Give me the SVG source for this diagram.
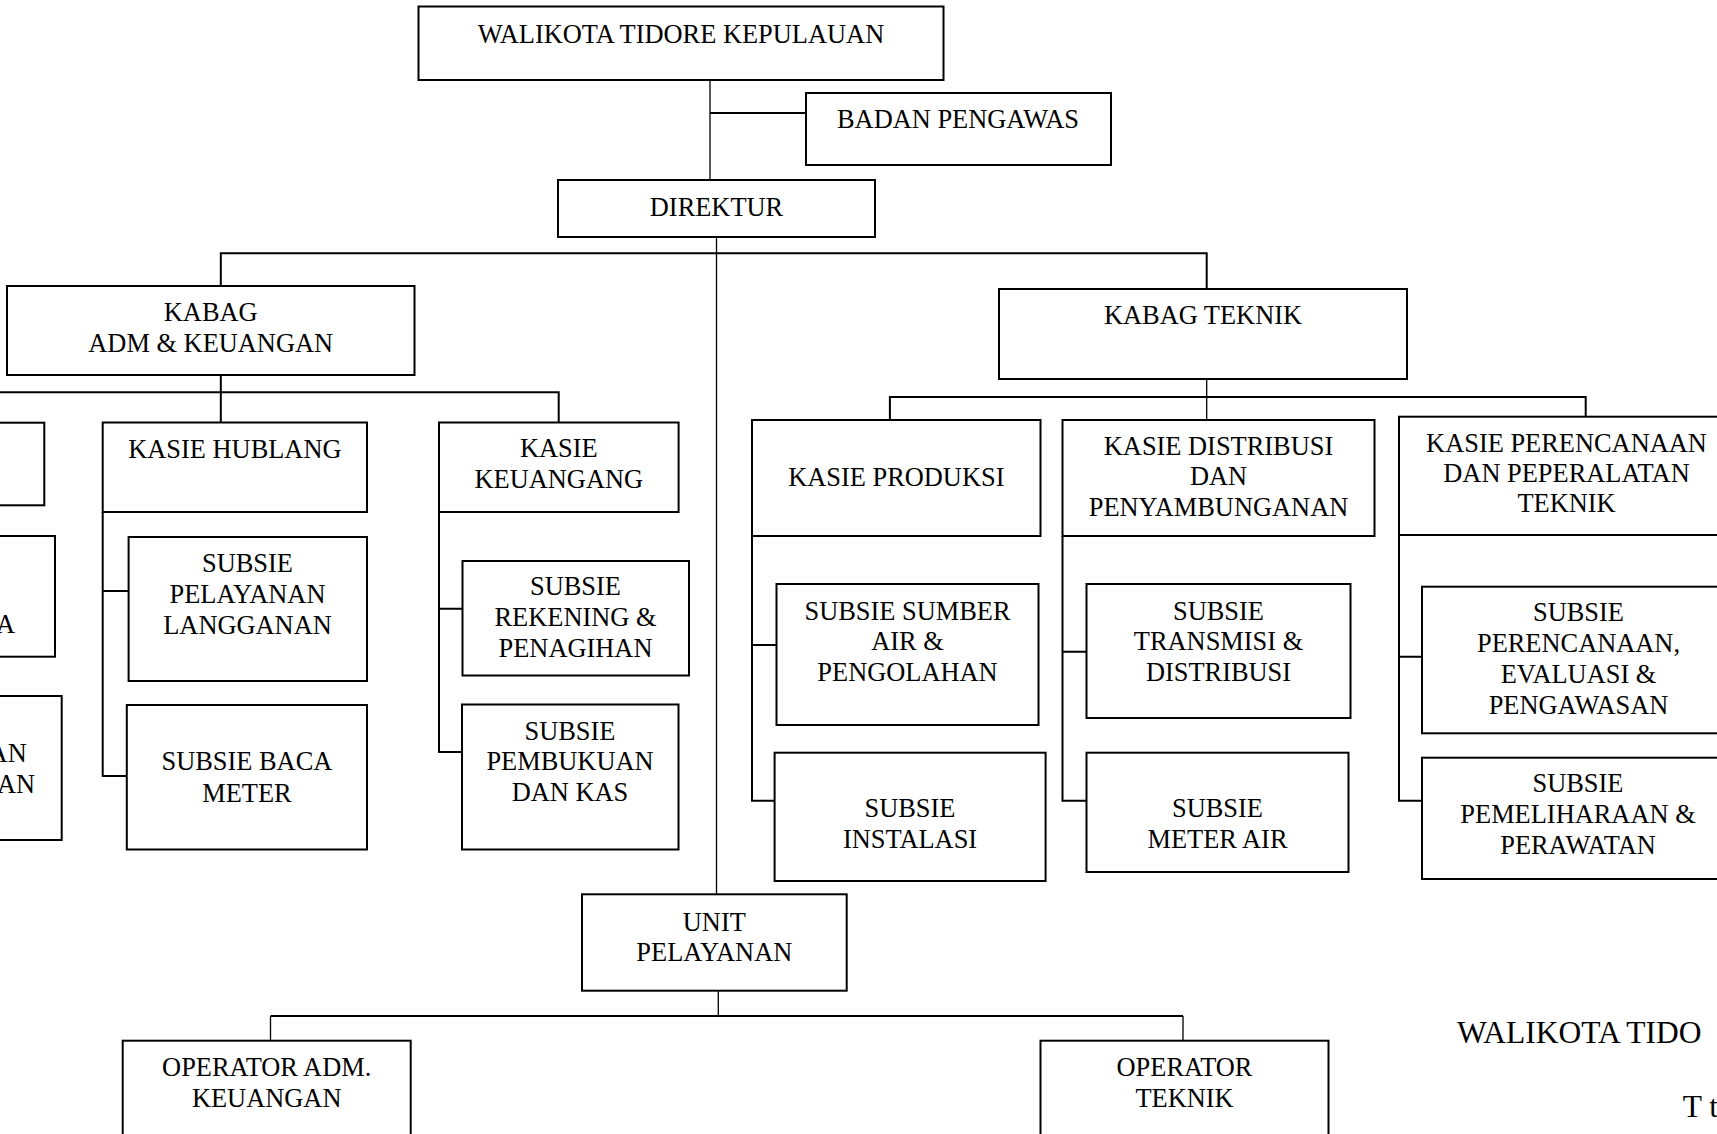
<svg xmlns="http://www.w3.org/2000/svg" width="1717" height="1134" viewBox="0 0 1717 1134">
<style>
  .box { fill: #fff; stroke: #000; stroke-width: 2; }
  .t { font-family: "Liberation Serif", "Times New Roman", serif; font-size: 26.4px; fill: #000; text-anchor: middle; }
  .te { font-family: "Liberation Serif", "Times New Roman", serif; font-size: 26.4px; fill: #000; text-anchor: end; }
  .big { font-family: "Liberation Serif", "Times New Roman", serif; font-size: 31.5px; fill: #000; }
  .c { fill: none; stroke: #000; stroke-width: 2; }
  .thin { fill: none; stroke: #000; stroke-width: 1.3; }
</style>
<rect width="1717" height="1134" fill="#fff"/>
<g id="connectors">
  <path class="thin" d="M710 77 V180"/>
  <path class="c" d="M710 113 H806"/>
  <path class="thin" d="M716.5 237 V894.3"/>
  <path class="c" d="M220.8 286 V253.3 H1206.7 V289"/>
  <path class="c" d="M220.8 375 V422.5"/>
  <path class="c" d="M0 392.3 H558.7 V422.5"/>
  <path class="thin" d="M1206.7 379 V420"/>
  <path class="c" d="M889.9 420 V397 H1585.7 V416.7"/>
  <path class="c" d="M102.7 512 V776 H126.8 M102.7 591 H128.6"/>
  <path class="c" d="M439 512 V752 H462 M439 608.7 H462.5"/>
  <path class="c" d="M752 536 V800.7 H774.6 M752 645 H776.5"/>
  <path class="c" d="M1062.5 536 V800.7 H1086.5 M1062.5 651.7 H1086.5"/>
  <path class="c" d="M1399 535 V800.7 H1422 M1399 656.7 H1422"/>
  <path class="thin" d="M718.3 990.7 V1016"/>
  <path class="c" d="M270.5 1016 H1183"/>
  <path class="thin" d="M270.5 1016 V1040.7 M1183 1016 V1040.7"/>
</g>
<g id="walikota"><rect class="box" x="418.5" y="6.5" width="525" height="73.5"/><text class="t" x="681" y="42.7">WALIKOTA TIDORE KEPULAUAN</text></g>
<g id="badan-pengawas"><rect class="box" x="806" y="93" width="305" height="72"/><text class="t" x="958" y="127.7">BADAN PENGAWAS</text></g>
<g id="direktur"><rect class="box" x="558" y="180" width="317" height="57"/><text class="t" x="716.5" y="215.7">DIREKTUR</text></g>
<g id="kabag-adm"><rect class="box" x="7" y="286" width="407.5" height="89"/><text class="t" x="210.7" y="321">KABAG</text><text class="t" x="210.7" y="351.7">ADM &amp; KEUANGAN</text></g>
<g id="kabag-teknik"><rect class="box" x="999" y="289" width="408" height="90"/><text class="t" x="1203" y="324.3">KABAG TEKNIK</text></g>
<g id="kasie-left"><rect class="box" x="-200" y="422.7" width="244.3" height="82.6"/></g>
<g id="subsie-left-1"><rect class="box" x="-200" y="536" width="255" height="120.7"/><text class="te" x="15" y="633.3">A</text></g>
<g id="subsie-left-2"><rect class="box" x="-200" y="696" width="261.7" height="144"/><text class="te" x="26.7" y="761.7">AN</text><text class="te" x="35" y="792.7">AN</text></g>
<g id="kasie-hublang"><rect class="box" x="102.7" y="422.5" width="264.3" height="89.5"/><text class="t" x="234.9" y="458.3">KASIE HUBLANG</text></g>
<g id="subsie-pelayanan"><rect class="box" x="128.6" y="537" width="238.4" height="144"/><text class="t" x="247.5" y="571.5">SUBSIE</text><text class="t" x="247.5" y="602.5">PELAYANAN</text><text class="t" x="247.5" y="633.5">LANGGANAN</text></g>
<g id="subsie-baca"><rect class="box" x="126.8" y="705" width="240.2" height="144.5"/><text class="t" x="246.9" y="770">SUBSIE BACA</text><text class="t" x="246.9" y="801.7">METER</text></g>
<g id="kasie-keuangang"><rect class="box" x="439" y="422.5" width="239.6" height="89.5"/><text class="t" x="558.8" y="456.7">KASIE</text><text class="t" x="558.8" y="488.3">KEUANGANG</text></g>
<g id="subsie-rekening"><rect class="box" x="462.5" y="561" width="226.5" height="114.5"/><text class="t" x="575.5" y="595">SUBSIE</text><text class="t" x="575.5" y="626">REKENING &amp;</text><text class="t" x="575.5" y="656.7">PENAGIHAN</text></g>
<g id="subsie-pembukuan"><rect class="box" x="462" y="704.5" width="216.5" height="145"/><text class="t" x="570" y="740">SUBSIE</text><text class="t" x="570" y="770">PEMBUKUAN</text><text class="t" x="570" y="800.7">DAN KAS</text></g>
<g id="kasie-produksi"><rect class="box" x="752" y="420" width="288.5" height="116"/><text class="t" x="896.3" y="486">KASIE PRODUKSI</text></g>
<g id="kasie-distribusi"><rect class="box" x="1062.5" y="420" width="312" height="116"/><text class="t" x="1218.5" y="455">KASIE DISTRIBUSI</text><text class="t" x="1218.5" y="485">DAN</text><text class="t" x="1218.5" y="516">PENYAMBUNGANAN</text></g>
<g id="kasie-perencanaan"><rect class="box" x="1399" y="416.7" width="340" height="118.3"/><text class="t" x="1566.5" y="452">KASIE PERENCANAAN</text><text class="t" x="1566.5" y="481.7">DAN PEPERALATAN</text><text class="t" x="1566.5" y="512">TEKNIK</text></g>
<g id="subsie-sumber"><rect class="box" x="776.5" y="584" width="262" height="141"/><text class="t" x="907.5" y="620">SUBSIE SUMBER</text><text class="t" x="907.5" y="650">AIR &amp;</text><text class="t" x="907.5" y="681">PENGOLAHAN</text></g>
<g id="subsie-instalasi"><rect class="box" x="774.6" y="752.7" width="271" height="128.3"/><text class="t" x="910" y="817.3">SUBSIE</text><text class="t" x="910" y="848.3">INSTALASI</text></g>
<g id="subsie-transmisi"><rect class="box" x="1086.5" y="584" width="264" height="134"/><text class="t" x="1218.5" y="620">SUBSIE</text><text class="t" x="1218.5" y="650">TRANSMISI &amp;</text><text class="t" x="1218.5" y="681">DISTRIBUSI</text></g>
<g id="subsie-meter-air"><rect class="box" x="1086.5" y="752.7" width="262" height="119.3"/><text class="t" x="1217.5" y="817.3">SUBSIE</text><text class="t" x="1217.5" y="848.3">METER AIR</text></g>
<g id="subsie-perencanaan"><rect class="box" x="1422" y="586.7" width="320" height="146.6"/><text class="t" x="1578.5" y="621">SUBSIE</text><text class="t" x="1578.5" y="651.7">PERENCANAAN,</text><text class="t" x="1578.5" y="683.3">EVALUASI &amp;</text><text class="t" x="1578.5" y="714">PENGAWASAN</text></g>
<g id="subsie-pemeliharaan"><rect class="box" x="1422" y="757.7" width="320" height="121.3"/><text class="t" x="1578" y="791.7">SUBSIE</text><text class="t" x="1578" y="822.7">PEMELIHARAAN &amp;</text><text class="t" x="1578" y="854">PERAWATAN</text></g>
<g id="unit-pelayanan"><rect class="box" x="582" y="894.3" width="264.7" height="96.4"/><text class="t" x="714.3" y="930.7">UNIT</text><text class="t" x="714.3" y="961">PELAYANAN</text></g>
<g id="operator-adm"><rect class="box" x="122.7" y="1040.7" width="288" height="120"/><text class="t" x="266.7" y="1076">OPERATOR ADM.</text><text class="t" x="266.7" y="1106.7">KEUANGAN</text></g>
<g id="operator-teknik"><rect class="box" x="1040.5" y="1040.7" width="288" height="120"/><text class="t" x="1184.5" y="1076">OPERATOR</text><text class="t" x="1184.5" y="1106.7">TEKNIK</text></g>
<g id="signature">
  <text class="big" x="1457" y="1042.7">WALIKOTA TIDO</text>
  <text class="big" x="1682.7" y="1116.7">T t</text>
</g>
</svg>
